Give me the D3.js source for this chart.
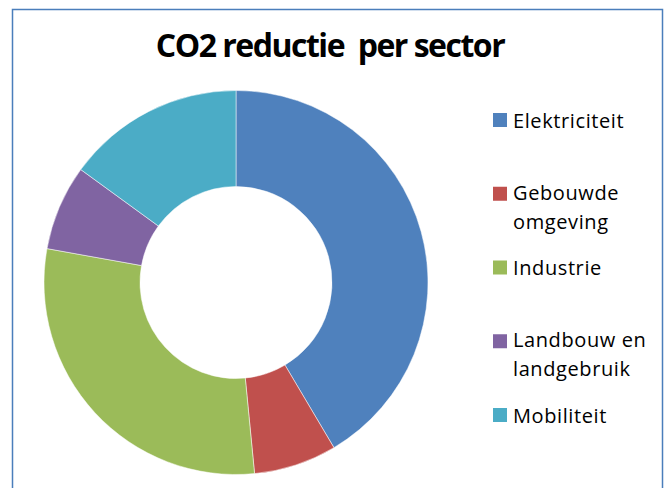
<!DOCTYPE html>
<html>
  <head>
    <meta charset="utf-8">
    <script src="https://d3js.org/d3.v7.min.js"></script>
    <style>
      body { margin: 0; background: #fff; }
      svg { display: block; }
      text { font-family: "Open Sans", sans-serif; fill: #000; }
    </style>
  </head>
<body>
  <script type="text/javascript">
    // data
    var sectors = ["Elektriciteit", "Gebouwde omgeving", "Industrie", "Landbouw en landgebruik", "Mobiliteit"];
    var legendLines = [["Elektriciteit"], ["Gebouwde", "omgeving"], ["Industrie"], ["Landbouw en", "landgebruik"], ["Mobiliteit"]];
    var reduction = [20.2, 3.4, 14.3, 3.5, 7.3];
    var colors = ["#4f81bd", "#c0504d", "#9bbb59", "#8064a2", "#4bacc6"];

    var width = 666, height = 488;

    var svg = d3.select("body")
      .append("svg")
        .attr("width", width)
        .attr("height", height);

    // chart frame
    svg.append("rect")
      .attr("x", 12.5)
      .attr("y", 9.5)
      .attr("width", 650)
      .attr("height", 490)
      .attr("fill", "#fff")
      .attr("stroke", "#4a7ebb")
      .attr("stroke-width", 1.5);

    svg.append("text")
      .attr("x", 330)
      .attr("y", 57)
      .attr("text-anchor", "middle")
      .style("font-size", "32px")
      .style("font-weight", "bold")
      .style("letter-spacing", "-1.5px")
      .style("white-space", "pre")
      .text("CO2 reductie  per sector");

    // donut
    var pie = d3.pie().sort(null).value(function (d) { return d; });
    var arc = d3.arc().innerRadius(96).outerRadius(192);

    var g = svg.append("g")
      .attr("transform", "translate(236,282.5)");

    g.selectAll("path")
      .data(pie(reduction))
      .enter()
      .append("path")
        .attr("d", arc)
        .attr("fill", function (d, i) { return colors[i]; })
        .attr("stroke", "#fff")
        .attr("stroke-width", 0.5);

    // legend
    var ly = d3.scalePoint().domain(sectors).range([120, 415]);

    var items = svg.selectAll("g.legend")
      .data(sectors)
      .enter()
      .append("g")
        .attr("class", "legend")
        .attr("transform", function (d) { return "translate(493," + ly(d) + ")"; });

    items.append("rect")
      .attr("x", 0)
      .attr("y", -7)
      .attr("width", 14)
      .attr("height", 14)
      .attr("fill", function (d, i) { return colors[i]; });

    items.each(function (d, i) {
      var lines = legendLines[i];
      var first = lines.length > 1 ? 6 : 7.5;
      d3.select(this).selectAll("text")
        .data(lines)
        .enter()
        .append("text")
          .attr("x", 20)
          .attr("y", function (l, j) { return first + j * 29; })
          .style("font-size", "20px")
          .style("letter-spacing", "0.6px")
          .text(function (l) { return l; });
    });
  </script>
</body>
</html>
